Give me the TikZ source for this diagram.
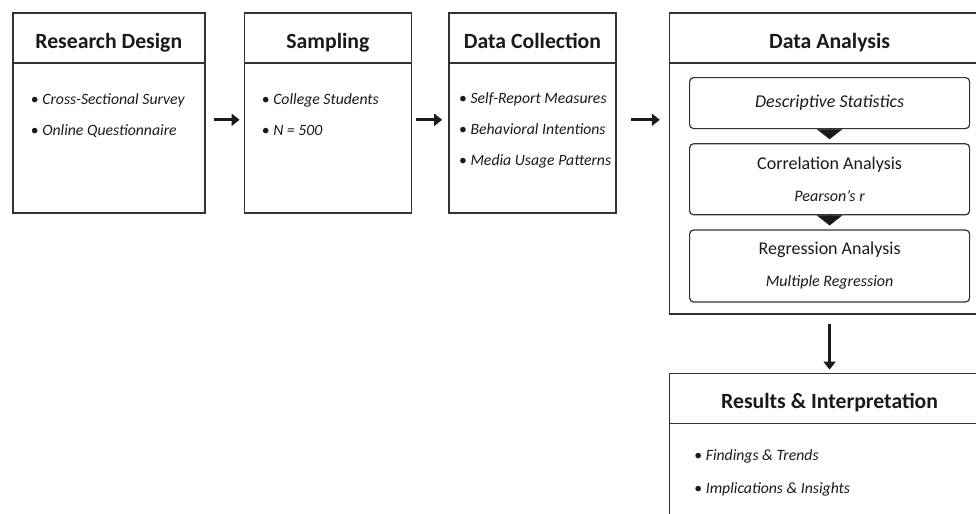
\documentclass[tikz,border=0pt]{standalone}
\usepackage{fontspec}
\setmainfont{Carlito}
\usetikzlibrary{positioning,arrows.meta}
\definecolor{edge}{HTML}{333333}
\definecolor{ink}{HTML}{1A1A1A}

\begin{document}
\begin{tikzpicture}[x=0.75pt, y=-0.75pt,
  stage/.style={draw=edge, line width=1.2pt, inner sep=0pt, minimum height=150pt, anchor=north west},
  head/.style={font=\fontsize{16.3}{18}\selectfont\bfseries, text=ink, anchor=base, inner sep=0pt},
  item/.style={font=\fontsize{11.8}{14}\selectfont, text=ink, anchor=base west, inner sep=0pt},
  method/.style={draw=edge, line width=0.9pt, rounded corners=3pt, minimum width=210pt, align=center, text=ink, font=\fontsize{13.5}{24}\selectfont},
  flow/.style={draw=ink, line width=2.5pt, -{Triangle[length=6pt,width=9pt]}},
  drop/.style={ink, line width=0.1pt, -{Triangle[length=7.5pt,width=19pt]}, shorten >=3pt}
]
\useasboundingbox (0,0) rectangle (976,514);
\clip (0,0) rectangle (976,514);

% stages
\node[stage, minimum width=144pt] (rd) at (12,12) {};
\node[stage, minimum width=125.25pt, right=28.5pt of rd] (smp) {};
\node[stage, minimum width=125.25pt, right=27pt of smp] (dc) {};
\node[stage, minimum width=240pt, minimum height=225.75pt] (da) at ([xshift=39pt]dc.north east) {};
\node[stage, minimum width=240pt, minimum height=112.5pt, below=43.5pt of da] (res) {};

% header rules
\foreach \b in {rd,smp,dc,da,res}
  \draw[edge, line width=1.2pt] ([yshift=-38.25pt]\b.north west) -- ([yshift=-38.25pt]\b.north east);

% titles
\node[head] (rd-t) at ([yshift=-27pt]rd.north) {Research Design};
\node[head] (smp-t) at ([yshift=-27pt]smp.north) {Sampling};
\node[head] (dc-t) at ([yshift=-27pt]dc.north) {Data Collection};
\node[head] (da-t) at ([yshift=-27pt]da.north) {Data Analysis};
\node[head] (res-t) at ([yshift=-27pt]res.north) {Results \& Interpretation};

% bullet items
\foreach \txt [count=\i] in {Cross-Sectional Survey, Online Questionnaire}
  \node[item] (rd-\i) at ([xshift=14pt, yshift={-69pt-23.5pt*(\i-1)}]rd.north west) {\textbullet\ \textit{\txt}};
\foreach \txt [count=\i] in {College Students, N = 500}
  \node[item] (smp-\i) at ([xshift=13.5pt, yshift={-69pt-23.5pt*(\i-1)}]smp.north west) {\textbullet\ \textit{\txt}};
\foreach \txt [count=\i] in {Self-Report Measures, Behavioral Intentions, Media Usage Patterns}
  \node[item] (dc-\i) at ([xshift=8pt, yshift={-68.25pt-23.6pt*(\i-1)}]dc.north west) {\textbullet\ \textit{\txt}};
\foreach \txt [count=\i] in {Findings \& Trends, Implications \& Insights}
  \node[item] (res-\i) at ([xshift=19pt, yshift={-66pt-24.75pt*(\i-1)}]res.north west) {\textbullet\ \textit{\txt}};

% analysis steps
\node[method, minimum height=38.25pt, anchor=north] (ds) at ([yshift=-48.75pt]da.north) {\itshape Descriptive Statistics};
\node[method, minimum height=53.25pt, below=10.5pt of ds] (ca) {Correlation Analysis\\{\fontsize{12}{24}\selectfont\itshape Pearson's r}};
\node[method, minimum height=54pt, below=10.5pt of ca] (ra) {Regression Analysis\\{\fontsize{12}{24}\selectfont\itshape Multiple Regression}};
\draw[drop] (ds.south) -- (ca.north);
\draw[drop] (ca.south) -- (ra.north);

% flow arrows
\draw[flow, shorten <=6pt, shorten >=3pt] ([yshift=-5.25pt]rd.east) -- ([yshift=-5.25pt]smp.west);
\draw[flow, shorten <=3pt, shorten >=4.5pt] ([yshift=-5.25pt]smp.east) -- ([yshift=-5.25pt]dc.west);
\draw[flow, shorten <=11pt, shorten >=6.75pt] ([yshift=-5.25pt]dc.east) -- ([yshift=-5.25pt]dc.east -| da.west);
\draw[flow, shorten <=6.75pt, shorten >=2.25pt] (da.south) -- (res.north);
\end{tikzpicture}
\end{document}
